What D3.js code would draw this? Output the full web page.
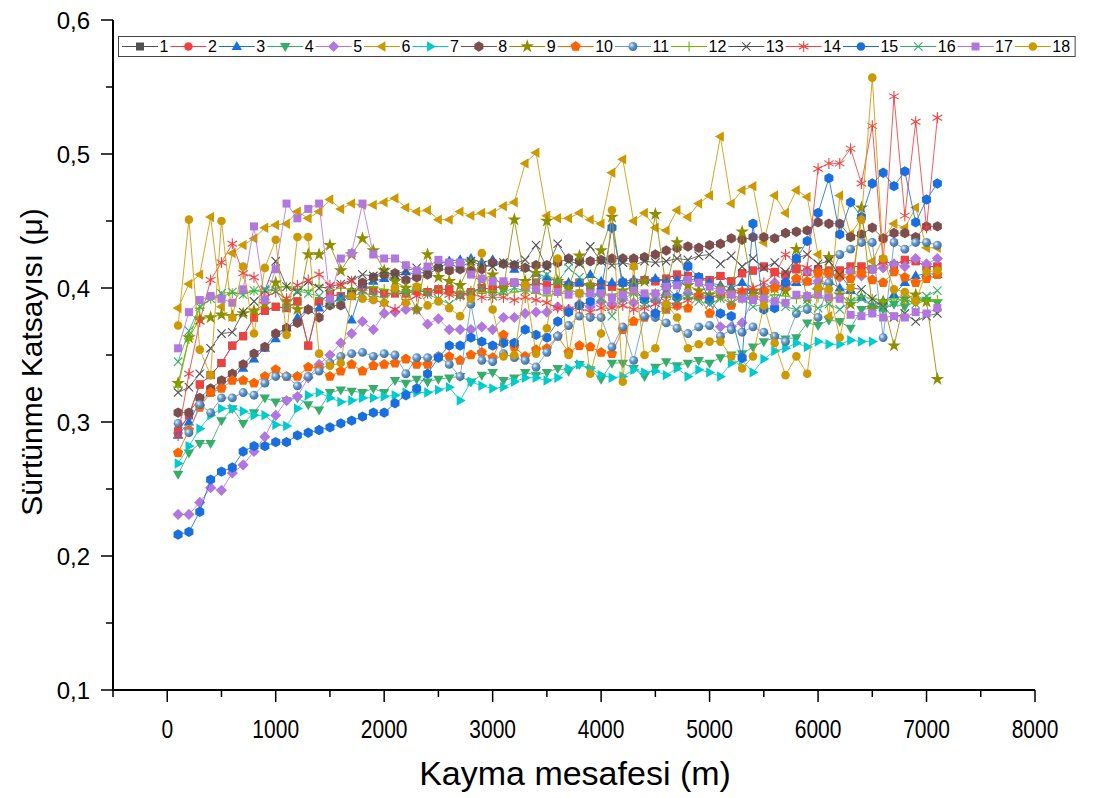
<!DOCTYPE html>
<html>
<head>
<meta charset="utf-8">
<script src="https://cdn.jsdelivr.net/npm/d3@7"></script>
<style>
  body { margin: 0; background: #fff; }
  text { font-family: "Liberation Sans", Arial, sans-serif; fill: #000; }
</style>
</head>
<body>
<svg id="chart" width="1094" height="798"></svg>
<script>
// sliding distance (m), one reading every 100 m
const distance = d3.range(100, 7200, 100);

// friction coefficient for the 18 runs (rows of 10 points)
const mu2 = [0.293,0.305,0.328,0.335,0.344,0.357,0.364,0.378,0.383,0.386,
  0.385,0.390,0.357,0.390,0.395,0.394,0.394,0.403,0.398,0.396,
  0.396,0.396,0.398,0.397,0.399,0.399,0.395,0.397,0.400,0.399,
  0.402,0.404,0.401,0.404,0.402,0.403,0.402,0.404,0.401,0.403,
  0.401,0.404,0.404,0.406,0.405,0.407,0.410,0.409,0.408,0.406,
  0.409,0.405,0.411,0.413,0.416,0.412,0.410,0.414,0.412,0.414,
  0.413,0.413,0.416,0.416,0.414,0.421,0.417,0.421,0.420,0.416,
  0.416];
const mu1 = [0.293,0.305,0.328,0.335,0.344,0.357,0.364,0.378,0.383,0.386,
  0.385,0.390,0.357,0.390,0.395,0.394,0.394,0.403,0.398,0.396,
  0.396,0.396,0.398,0.397,0.399,0.399,0.395,0.397,0.400,0.399,
  0.402,0.404,0.401,0.404,0.402,0.403,0.402,0.404,0.401,0.403,
  0.401,0.404,0.404,0.406,0.405,0.407,0.410,0.409,0.408,0.406,
  0.409,0.405,0.411,0.413,0.416,0.412,0.410,0.414,0.412,0.414,
  0.413,0.413,0.416,0.416,0.414,0.421,0.417,0.421,0.420,0.416,
  0.416];
const mu3 = [0.290,0.300,0.315,0.322,0.328,0.333,0.340,0.347,0.355,0.362,
  0.370,0.378,0.384,0.385,0.388,0.393,0.376,0.402,0.405,0.407,
  0.408,0.412,0.410,0.413,0.418,0.420,0.421,0.422,0.419,0.421,
  0.418,0.414,0.415,0.411,0.408,0.405,0.404,0.404,0.410,0.405,
  0.404,0.405,0.406,0.406,0.407,0.405,0.406,0.405,0.408,0.404,
  0.402,0.400,0.404,0.398,0.400,0.403,0.401,0.404,0.405,0.402,
  0.405,0.400,0.398,0.393,0.387,0.390,0.395,0.404,0.409,0.411,
  0.410];
const mu4 = [0.261,0.277,0.284,0.284,0.301,0.310,0.299,0.307,0.318,0.315,
  0.316,0.318,0.313,0.309,0.322,0.324,0.323,0.322,0.325,0.322,
  0.331,0.329,0.332,0.330,0.332,0.333,0.334,0.330,0.335,0.337,
  0.331,0.333,0.337,0.335,0.337,0.340,0.338,0.343,0.339,0.332,
  0.344,0.344,0.340,0.334,0.341,0.345,0.342,0.344,0.346,0.344,
  0.348,0.350,0.351,0.356,0.360,0.363,0.362,0.363,0.374,0.372,
  0.376,0.375,0.370,0.384,0.385,0.384,0.388,0.386,0.390,0.391,
  0.389];
const mu5 = [0.231,0.231,0.240,0.251,0.249,0.262,0.268,0.278,0.289,0.305,
  0.316,0.319,0.333,0.343,0.350,0.359,0.366,0.375,0.369,0.381,
  0.382,0.384,0.384,0.373,0.377,0.369,0.369,0.369,0.371,0.369,
  0.378,0.378,0.381,0.382,0.382,0.386,0.384,0.388,0.386,0.390,
  0.388,0.392,0.389,0.393,0.391,0.395,0.392,0.396,0.394,0.390,
  0.371,0.371,0.374,0.392,0.398,0.404,0.400,0.407,0.413,0.405,
  0.410,0.408,0.412,0.409,0.414,0.415,0.418,0.416,0.422,0.418,
  0.422];
const mu6 = [0.385,0.403,0.410,0.453,0.386,0.426,0.432,0.437,0.445,0.447,
  0.448,0.457,0.452,0.457,0.466,0.459,0.463,0.462,0.462,0.464,
  0.467,0.460,0.457,0.458,0.451,0.451,0.457,0.454,0.456,0.456,
  0.461,0.464,0.493,0.501,0.454,0.452,0.452,0.456,0.451,0.448,
  0.486,0.496,0.450,0.456,0.445,0.443,0.458,0.453,0.463,0.469,
  0.513,0.463,0.473,0.476,0.434,0.469,0.456,0.473,0.468,0.425,
  0.379,0.469,0.440,0.452,0.420,0.437,0.448,0.445,0.460,0.430,
  0.430];
// run 7 stops at 6500 m
const mu7 = [0.269,0.282,0.295,0.305,0.310,0.310,0.308,0.305,0.305,0.298,
  0.297,0.310,0.320,0.322,0.318,0.315,0.316,0.318,0.318,0.319,
  0.320,0.322,0.322,0.322,0.324,0.326,0.316,0.330,0.327,0.325,
  0.326,0.330,0.333,0.333,0.331,0.333,0.340,0.343,0.340,0.335,
  0.333,0.334,0.339,0.337,0.338,0.335,0.340,0.334,0.339,0.337,
  0.334,0.344,0.346,0.337,0.347,0.353,0.355,0.359,0.356,0.360,
  0.358,0.358,0.361,0.360,0.360];
const mu8 = [0.307,0.307,0.318,0.325,0.331,0.336,0.343,0.351,0.356,0.366,
  0.370,0.374,0.384,0.378,0.387,0.387,0.397,0.404,0.408,0.410,
  0.411,0.406,0.408,0.410,0.415,0.413,0.414,0.413,0.414,0.419,
  0.418,0.417,0.415,0.417,0.417,0.419,0.422,0.420,0.420,0.421,
  0.422,0.422,0.422,0.423,0.425,0.428,0.430,0.431,0.430,0.432,
  0.433,0.437,0.436,0.438,0.438,0.437,0.441,0.442,0.443,0.449,
  0.448,0.448,0.438,0.440,0.445,0.437,0.441,0.441,0.438,0.446,
  0.446];
const mu9 = [0.329,0.363,0.377,0.378,0.380,0.379,0.381,0.383,0.388,0.404,
  0.390,0.384,0.425,0.425,0.432,0.413,0.425,0.437,0.428,0.413,
  0.405,0.400,0.384,0.425,0.408,0.405,0.402,0.419,0.406,0.410,
  0.400,0.451,0.405,0.411,0.450,0.405,0.400,0.424,0.402,0.428,
  0.453,0.398,0.402,0.405,0.455,0.400,0.434,0.402,0.398,0.395,
  0.400,0.397,0.442,0.398,0.395,0.400,0.398,0.429,0.392,0.398,
  0.423,0.395,0.388,0.460,0.385,0.390,0.357,0.392,0.395,0.390,
  0.332];
const mu10 = [0.277,0.294,0.311,0.322,0.325,0.331,0.331,0.329,0.334,0.339,
  0.334,0.334,0.341,0.340,0.334,0.338,0.343,0.338,0.342,0.343,
  0.344,0.347,0.343,0.343,0.349,0.349,0.346,0.350,0.352,0.348,
  0.365,0.356,0.349,0.354,0.355,0.364,0.352,0.357,0.356,0.352,
  0.351,0.369,0.375,0.378,0.381,0.384,0.387,0.385,0.394,0.381,
  0.395,0.387,0.397,0.392,0.398,0.400,0.402,0.407,0.405,0.411,
  0.411,0.409,0.407,0.411,0.406,0.404,0.412,0.408,0.404,0.407,
  0.410];
const mu11 = [0.299,0.292,0.313,0.307,0.318,0.318,0.322,0.320,0.329,0.334,
  0.334,0.327,0.334,0.338,0.344,0.349,0.351,0.352,0.349,0.351,
  0.350,0.336,0.348,0.348,0.349,0.343,0.334,0.388,0.346,0.345,
  0.351,0.348,0.346,0.341,0.352,0.364,0.372,0.379,0.378,0.378,
  0.356,0.371,0.346,0.379,0.378,0.374,0.370,0.366,0.371,0.372,
  0.364,0.369,0.367,0.371,0.367,0.364,0.360,0.381,0.384,0.378,
  0.404,0.425,0.429,0.434,0.434,0.363,0.434,0.429,0.434,0.434,
  0.432];
const mu12 = [0.326,0.362,0.385,0.392,0.394,0.396,0.396,0.398,0.397,0.400,
  0.401,0.399,0.398,0.402,0.398,0.400,0.399,0.398,0.401,0.399,
  0.398,0.397,0.400,0.398,0.399,0.395,0.397,0.398,0.396,0.398,
  0.395,0.397,0.398,0.396,0.394,0.396,0.398,0.397,0.394,0.396,
  0.395,0.397,0.395,0.394,0.396,0.393,0.395,0.392,0.395,0.394,
  0.393,0.395,0.392,0.394,0.393,0.395,0.394,0.392,0.394,0.393,
  0.392,0.393,0.391,0.394,0.392,0.390,0.392,0.391,0.389,0.390,
  0.391];
const mu13 = [0.322,0.326,0.336,0.355,0.366,0.367,0.382,0.390,0.398,0.420,
  0.401,0.397,0.405,0.400,0.401,0.403,0.406,0.410,0.409,0.412,
  0.410,0.413,0.415,0.412,0.416,0.418,0.415,0.420,0.417,0.416,
  0.419,0.418,0.421,0.432,0.415,0.433,0.420,0.418,0.431,0.420,
  0.417,0.419,0.417,0.420,0.419,0.420,0.422,0.421,0.424,0.425,
  0.418,0.424,0.416,0.422,0.415,0.419,0.412,0.422,0.425,0.418,
  0.420,0.410,0.400,0.399,0.392,0.386,0.378,0.381,0.375,0.379,
  0.381];
const mu14 = [0.290,0.336,0.375,0.406,0.419,0.433,0.411,0.408,0.393,0.397,
  0.392,0.402,0.406,0.410,0.402,0.402,0.405,0.398,0.392,0.388,
  0.384,0.390,0.394,0.396,0.397,0.395,0.394,0.396,0.393,0.393,
  0.393,0.391,0.393,0.391,0.389,0.385,0.384,0.385,0.382,0.385,
  0.385,0.387,0.384,0.385,0.388,0.390,0.387,0.391,0.394,0.392,
  0.396,0.395,0.398,0.400,0.404,0.410,0.425,0.418,0.415,0.489,
  0.493,0.493,0.504,0.478,0.521,0.419,0.543,0.454,0.524,0.445,
  0.527];
const mu15 = [0.216,0.218,0.233,0.257,0.263,0.266,0.278,0.282,0.282,0.285,
  0.285,0.290,0.292,0.294,0.296,0.299,0.301,0.304,0.307,0.307,
  0.314,0.320,0.325,0.336,0.348,0.357,0.357,0.363,0.360,0.357,
  0.359,0.359,0.369,0.365,0.363,0.375,0.382,0.387,0.390,0.398,
  0.445,0.404,0.400,0.391,0.381,0.401,0.393,0.416,0.408,0.391,
  0.381,0.379,0.348,0.448,0.384,0.385,0.404,0.422,0.435,0.456,
  0.482,0.440,0.464,0.453,0.478,0.486,0.476,0.487,0.449,0.466,
  0.478];
const mu16 = [0.345,0.368,0.386,0.392,0.396,0.397,0.395,0.398,0.399,0.398,
  0.385,0.398,0.396,0.394,0.388,0.392,0.394,0.396,0.395,0.392,
  0.398,0.396,0.400,0.395,0.392,0.388,0.394,0.396,0.400,0.394,
  0.397,0.400,0.398,0.405,0.410,0.405,0.415,0.408,0.398,0.392,
  0.379,0.392,0.396,0.388,0.392,0.384,0.390,0.394,0.390,0.388,
  0.392,0.389,0.393,0.386,0.388,0.392,0.386,0.384,0.388,0.385,
  0.388,0.384,0.390,0.392,0.386,0.385,0.389,0.392,0.388,0.394,
  0.398];
const mu17 = [0.355,0.382,0.391,0.394,0.392,0.389,0.399,0.446,0.391,0.414,
  0.463,0.452,0.459,0.463,0.392,0.422,0.426,0.463,0.425,0.422,
  0.422,0.417,0.413,0.416,0.421,0.419,0.419,0.410,0.407,0.405,
  0.405,0.404,0.401,0.399,0.398,0.397,0.395,0.396,0.396,0.396,
  0.393,0.395,0.398,0.396,0.396,0.401,0.402,0.406,0.404,0.401,
  0.398,0.395,0.392,0.391,0.392,0.390,0.389,0.395,0.394,0.395,
  0.393,0.392,0.380,0.379,0.381,0.378,0.379,0.378,0.382,0.381,
  0.385];
const mu18 = [0.372,0.451,0.354,0.335,0.450,0.378,0.416,0.366,0.415,0.436,
  0.365,0.438,0.438,0.351,0.342,0.344,0.394,0.392,0.391,0.389,
  0.400,0.389,0.401,0.387,0.390,0.385,0.379,0.392,0.426,0.384,
  0.349,0.350,0.402,0.351,0.370,0.422,0.350,0.396,0.336,0.366,
  0.458,0.330,0.416,0.350,0.355,0.388,0.378,0.355,0.358,0.360,
  0.360,0.349,0.340,0.349,0.387,0.359,0.335,0.349,0.336,0.400,
  0.399,0.363,0.400,0.451,0.557,0.422,0.399,0.397,0.390,0.412,
  0.413];

const seriesNames = ["1","2","3","4","5","6","7","8","9","10","11","12","13","14","15","16","17","18"];
const seriesValues = [mu1,mu2,mu3,mu4,mu5,mu6,mu7,mu8,mu9,mu10,mu11,mu12,mu13,mu14,mu15,mu16,mu17,mu18];
const colors = ["#515151","#F14040","#1A6FDF","#37AD6B","#B177DE","#CC9900","#00CBCC","#7D4E4E","#8E8E00",
  "#FB6501","#6699CC","#6FB802","#515151","#F14040","#1A6FDF","#37AD6B","#B177DE","#CC9900"];
const plotSymbols = ["square","square","triUp","triDown","diamond","triLeft","triRight","hexagon","star",
  "pentagon","sphere","plus","cross","asterisk","hexagon","cross","square","circle"];
const legendSymbols = ["square","circle","triUp","triDown","diamond","triLeft","triRight","hexagon","star",
  "pentagon","sphere","plus","cross","asterisk","circle","cross","square","circle"];

const xTicks = [0,1000,2000,3000,4000,5000,6000,7000,8000];
const yTicks = [0.1,0.2,0.3,0.4,0.5,0.6];

// layout
const plotLeft = 113, plotRight = 1035, plotTop = 20, plotBottom = 690;

const svg = d3.select("#chart");

const x = d3.scaleLinear().domain([-500, 8000]).range([plotLeft, plotRight]);
const y = d3.scaleLinear().domain([0.1, 0.6]).range([plotBottom, plotTop]);

const defs = svg.append("defs");
const grad = defs.append("radialGradient").attr("id", "sphere")
  .attr("cx", "35%").attr("cy", "35%").attr("r", "65%");
grad.append("stop").attr("offset", "0%").attr("stop-color", "#eef4fb");
grad.append("stop").attr("offset", "45%").attr("stop-color", "#6699CC");
grad.append("stop").attr("offset", "100%").attr("stop-color", "#41709f");

function polygon(n, r, rot) {
  const pts = d3.range(n).map(i => {
    const a = rot + i * 2 * Math.PI / n;
    return [r * Math.cos(a), r * Math.sin(a)];
  });
  return "M" + pts.map(p => p[0].toFixed(2) + "," + p[1].toFixed(2)).join("L") + "Z";
}
const tri = "M0,-5.6L5.2,3.4L-5.2,3.4Z";

// returns [path, filled?, rotation]
function shape(type) {
  switch (type) {
    case "square": return ["M-4,-4H4V4H-4Z", true];
    case "circle": return [d3.symbol(d3.symbolCircle, 58)(), true];
    case "sphere": return [d3.symbol(d3.symbolCircle, 62)(), true];
    case "triUp": return [tri, true];
    case "triDown": return [tri, true, 180];
    case "triLeft": return [tri, true, -90];
    case "triRight": return [tri, true, 90];
    case "diamond": return ["M0,-5.6L5.6,0L0,5.6L-5.6,0Z", true];
    case "hexagon": return [polygon(6, 5.2, -Math.PI / 2), true];
    case "pentagon": return [polygon(5, 5.4, -Math.PI / 2), true];
    case "star": return [d3.symbol(d3.symbolStar, 58)(), true];
    case "plus": return ["M-5,0H5M0,-5V5", false];
    case "cross": return ["M-4.2,-4.2L4.2,4.2M-4.2,4.2L4.2,-4.2", false];
    case "asterisk": return ["M0,-5.5V5.5M-4.8,-2.75L4.8,2.75M-4.8,2.75L4.8,-2.75", false];
  }
}

function drawMarker(g, type, color, cx, cy) {
  const [d, filled, rot] = shape(type);
  const p = g.append("path").attr("d", d)
    .attr("transform", `translate(${cx},${cy})` + (rot ? ` rotate(${rot})` : ""));
  if (!filled) {
    p.attr("fill", "none").attr("stroke", color).attr("stroke-width", 1.1);
  } else if (type === "sphere") {
    p.attr("fill", "url(#sphere)");
  } else {
    p.attr("fill", color);
  }
}

// series
const line = d3.line().x(d => x(d[0])).y(d => y(d[1]));
const plot = svg.append("g");
seriesValues.forEach((vals, i) => {
  const pts = vals.map((v, j) => [distance[j], v]);
  const g = plot.append("g");
  g.append("path").datum(pts).attr("d", line)
    .attr("fill", "none").attr("stroke", colors[i]).attr("stroke-width", 1)
    .attr("stroke-opacity", 0.85);
  pts.forEach(p => drawMarker(g, plotSymbols[i], colors[i], x(p[0]), y(p[1])));
});

// axes
const axisG = svg.append("g");
axisG.append("line").attr("x1", plotLeft).attr("x2", plotRight).attr("y1", plotBottom).attr("y2", plotBottom)
  .attr("stroke", "#000").attr("stroke-width", 2);
axisG.append("line").attr("x1", plotLeft).attr("x2", plotLeft).attr("y1", plotTop).attr("y2", plotBottom + 1)
  .attr("stroke", "#000").attr("stroke-width", 2);

const xMinor = d3.range(-500, 8000, 1000);
xMinor.forEach(t => axisG.append("line").attr("x1", x(t)).attr("x2", x(t))
  .attr("y1", plotBottom).attr("y2", plotBottom + 7).attr("stroke", "#000").attr("stroke-width", 1.5));
xTicks.forEach(t => axisG.append("line").attr("x1", x(t)).attr("x2", x(t))
  .attr("y1", plotBottom).attr("y2", plotBottom + 12).attr("stroke", "#000").attr("stroke-width", 1.5));
// the x tick labels are set in a condensed face in the figure
axisG.selectAll(".xl").data(xTicks).enter().append("text")
  .attr("transform", d => `translate(${x(d)},738) scale(0.84,1)`)
  .attr("text-anchor", "middle")
  .style("font-size", "25px")
  .text(d => d);

const yMinor = [0.15, 0.25, 0.35, 0.45, 0.55];
yMinor.forEach(t => axisG.append("line").attr("x1", plotLeft - 7).attr("x2", plotLeft)
  .attr("y1", y(t)).attr("y2", y(t)).attr("stroke", "#000").attr("stroke-width", 1.5));
yTicks.forEach(t => axisG.append("line").attr("x1", plotLeft - 12).attr("x2", plotLeft)
  .attr("y1", y(t)).attr("y2", y(t)).attr("stroke", "#000").attr("stroke-width", 1.5));
axisG.selectAll(".yl").data(yTicks).enter().append("text")
  .attr("x", 90).attr("y", d => y(d) + 8.5)
  .attr("text-anchor", "end")
  .style("font-size", "24px")
  .text(d => d3.format(".1f")(d).replace(".", ","));

// axis titles
svg.append("text").attr("transform", "translate(42,362) rotate(-90)")
  .attr("text-anchor", "middle").style("font-size", "30px")
  .text("Sürtünme Katsayısı (μ)");
svg.append("text").attr("x", 575).attr("y", 785)
  .attr("text-anchor", "middle").style("font-size", "34px")
  .text("Kayma mesafesi (m)");

// legend
const leg = svg.append("g");
const box = leg.append("rect").attr("x", 118.5).attr("y", 36.5).attr("height", 20)
  .attr("fill", "#fff").attr("stroke", "#444").attr("stroke-width", 1);
let lx = 122;
const ly = 46.5;
seriesNames.forEach((name, i) => {
  leg.append("line").attr("x1", lx).attr("x2", lx + 36).attr("y1", ly).attr("y2", ly)
    .attr("stroke", colors[i]).attr("stroke-width", 1);
  drawMarker(leg, legendSymbols[i], colors[i], lx + 18, ly);
  const t = leg.append("text").attr("x", lx + 37.5).attr("y", ly + 5.5)
    .style("font-size", "16px").text(name);
  lx += 37.5 + t.node().getComputedTextLength() + 2;
});
box.attr("width", lx - 118.5 + 3);
</script>
</body>
</html>
